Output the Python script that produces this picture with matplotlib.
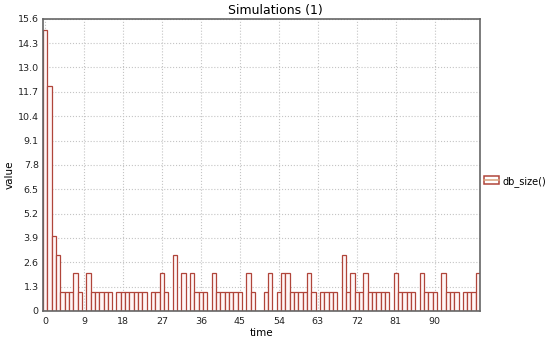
import numpy as np
import matplotlib
matplotlib.use("Agg")
import matplotlib.pyplot as plt
from matplotlib.patches import Patch
from matplotlib.lines import Line2D

# data (one value per time step)
time = list(range(101))
db_size = [15, 12, 4, 3, 1, 1, 1, 2, 1, 0,
           2, 1, 1, 1, 1, 1, 0, 1, 1, 1,
           1, 1, 1, 1, 0, 1, 1, 2, 1, 0,
           3, 0, 2, 0, 2, 1, 1, 1, 0, 2,
           1, 1, 1, 1, 1, 1, 0, 2, 1, 0,
           0, 1, 2, 0, 1, 2, 2, 1, 1, 1,
           1, 2, 1, 0, 1, 1, 1, 1, 0, 3,
           1, 2, 1, 1, 2, 1, 1, 1, 1, 1,
           0, 2, 1, 1, 1, 1, 0, 2, 1, 1,
           1, 0, 2, 1, 1, 1, 0, 1, 1, 1,
           2]
xticks = [0, 9, 18, 27, 36, 45, 54, 63, 72, 81, 90]
yticks = [0, 1.3, 2.6, 3.9, 5.2, 6.5, 7.8, 9.1, 10.4, 11.7, 13.0, 14.3, 15.6]

edge = '#b0453a'
face = '#fff6f6'

fig = plt.figure(figsize=(5.5, 3.42), dpi=100)
ax = fig.add_axes([0.078, 0.091, 0.795, 0.854])

ax.bar(time, db_size, width=1.0, color=face, edgecolor=edge, linewidth=0.9)

ax.set_xlim(-0.5, 100.5)
ax.set_ylim(0, 15.6)
ax.set_xticks(xticks)
ax.set_yticks(yticks)
ax.set_yticklabels(['0' if v == 0 else '%.1f' % v for v in yticks])
ax.tick_params(labelsize=6.8, length=0, pad=3, colors='#222222')
ax.tick_params(axis='x', pad=4.5)
ax.grid(True, linestyle=':', color='#c4c4c4', linewidth=0.8)
ax.set_axisbelow(True)
for s in ax.spines.values():
    s.set_color('#666666')
    s.set_linewidth(1.2)

ax.set_xlabel('time', fontsize=7.5, labelpad=1)
fig.text(0.018, 0.49, 'value', rotation=90, ha='center', va='center', fontsize=7.5)
fig.text(0.5, 0.97, 'Simulations (1)', ha='center', va='center', fontsize=9)

handle = (Patch(facecolor='white', edgecolor=edge, linewidth=1.1),
          Line2D([0], [0], color='#d9a07a', linewidth=1.1))
fig.legend([handle], ['db_size()'], loc='center left',
           bbox_to_anchor=(0.873, 0.47), frameon=False, fontsize=7,
           handlelength=1.5, handleheight=0.9, handletextpad=0.4,
           borderaxespad=0.2, borderpad=0.2)

fig.savefig('out.png', dpi=100)
